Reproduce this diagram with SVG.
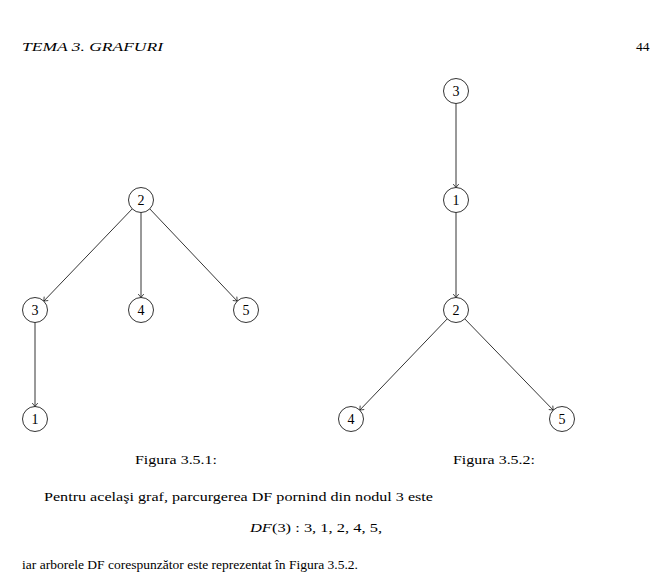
<svg xmlns="http://www.w3.org/2000/svg" width="651" height="582" viewBox="0 0 651 582">
<defs>
<marker id="arr" viewBox="-5 -4 6 8" markerWidth="6" markerHeight="8" refX="0" refY="0" orient="auto" markerUnits="userSpaceOnUse">
<path d="M-3.5,-2.8 Q-1,-0.8 0,0 Q-1,0.8 -3.5,2.8" fill="none" stroke="#000" stroke-width="0.7"/>
</marker>
</defs>
<style>
text{font-family:"Liberation Serif","DejaVu Serif",serif;fill:#000}
.n circle{fill:#fff;stroke:#000;stroke-width:0.8}
.n text{font-size:14px;text-anchor:middle}
.e line{stroke:#000;stroke-width:0.8;marker-end:url(#arr)}
.t{font-size:13.5px}
.i{font-style:italic}
</style>
<rect width="651" height="582" fill="#fff"/>
<text class="t i" x="22" y="51" textLength="141" lengthAdjust="spacingAndGlyphs">TEMA 3.  GRAFURI</text>
<text class="t" x="636" y="51">44</text>
<g id="edges" class="e">
<line x1="132.2" y1="208.9" x2="43.8" y2="301.1"/>
<line x1="141" y1="212.5" x2="141" y2="297.5"/>
<line x1="149.8" y1="208.9" x2="237.2" y2="301.1"/>
<line x1="35" y1="322.5" x2="35" y2="406.5"/>
<line x1="456" y1="103.5" x2="456" y2="187.5"/>
<line x1="456" y1="212.5" x2="456" y2="297.5"/>
<line x1="447.2" y1="318.9" x2="359.8" y2="410.1"/>
<line x1="464.8" y1="318.9" x2="553.2" y2="410.1"/>
</g>
<g id="L2" class="n"><circle cx="141" cy="200" r="12.5"/><text x="141" y="205">2</text></g>
<g id="L3" class="n"><circle cx="35" cy="310" r="12.5"/><text x="35" y="315">3</text></g>
<g id="L4" class="n"><circle cx="141" cy="310" r="12.5"/><text x="141" y="315">4</text></g>
<g id="L5" class="n"><circle cx="246" cy="310" r="12.5"/><text x="246" y="315">5</text></g>
<g id="L1" class="n"><circle cx="35" cy="419" r="12.5"/><text x="35" y="424">1</text></g>
<g id="R3" class="n"><circle cx="456" cy="91" r="12.5"/><text x="456" y="96">3</text></g>
<g id="R1" class="n"><circle cx="456" cy="200" r="12.5"/><text x="456" y="205">1</text></g>
<g id="R2" class="n"><circle cx="456" cy="310" r="12.5"/><text x="456" y="315">2</text></g>
<g id="R4" class="n"><circle cx="351" cy="419" r="12.5"/><text x="351" y="424">4</text></g>
<g id="R5" class="n"><circle cx="562" cy="419" r="12.5"/><text x="562" y="424">5</text></g>
<text class="t" x="135" y="464" textLength="82" lengthAdjust="spacingAndGlyphs">Figura 3.5.1:</text>
<text class="t" x="453" y="464" textLength="82" lengthAdjust="spacingAndGlyphs">Figura 3.5.2:</text>
<text class="t" x="44" y="501" textLength="389" lengthAdjust="spacingAndGlyphs">Pentru acelaşi graf, parcurgerea DF pornind din nodul 3 este</text>
<text class="t" x="250" y="532" textLength="132" lengthAdjust="spacingAndGlyphs"><tspan class="i">DF</tspan>(3) : 3, 1, 2, 4, 5,</text>
<text class="t" x="22" y="569" textLength="336" lengthAdjust="spacingAndGlyphs">iar arborele DF corespunzător este reprezentat în Figura 3.5.2.</text>
</svg>
